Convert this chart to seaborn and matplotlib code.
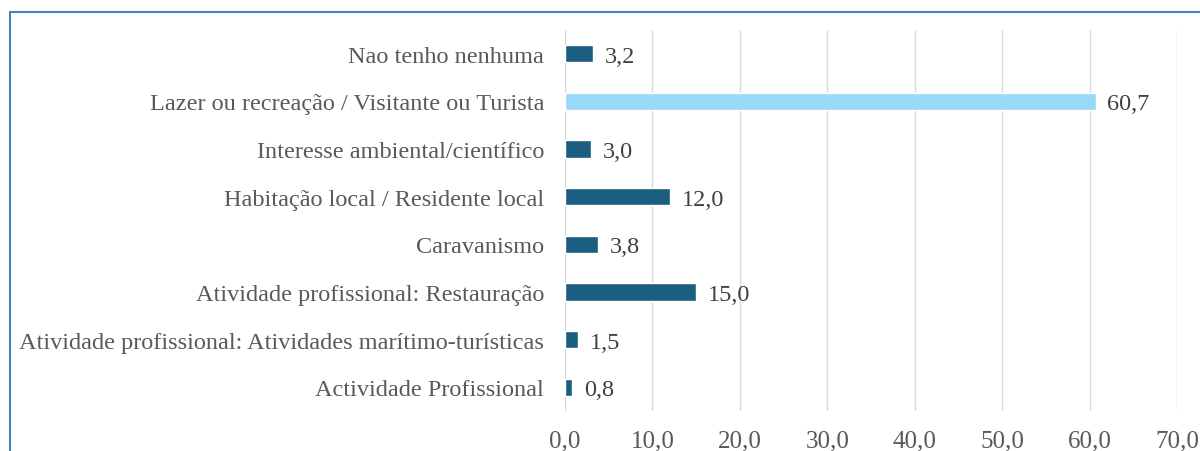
import matplotlib
matplotlib.use("Agg")
import matplotlib.pyplot as plt
import seaborn as sns
import pandas as pd
from matplotlib.patches import Rectangle

categories = [
    "Nao tenho nenhuma",
    "Lazer ou recreação / Visitante ou Turista",
    "Interesse ambiental/científico",
    "Habitação local / Residente local",
    "Caravanismo",
    "Atividade profissional: Restauração",
    "Atividade profissional: Atividades marítimo-turísticas",
    "Actividade Profissional",
]
values = [3.2, 60.7, 3.0, 12.0, 3.8, 15.0, 1.5, 0.8]
highlight = ["n", "y", "n", "n", "n", "n", "n", "n"]
xticks = [0, 10, 20, 30, 40, 50, 60, 70]

df = pd.DataFrame({"cat": categories, "val": values, "hl": highlight})

sns.set_theme(style="white")
plt.rcParams["font.family"] = ["Liberation Serif", "DejaVu Serif"]

fig = plt.figure(figsize=(12, 4.52), dpi=100)
ax = fig.add_axes([565/1200, 1-412/452, (1177-565)/1200, (412-31)/452])

sns.barplot(data=df, y="cat", x="val", hue="hl", order=categories,
            palette={"n": "#1B5E80", "y": "#97D9F7"}, width=0.36,
            legend=False, ax=ax, saturation=1)

ax.set_xlim(0, 70)
ax.set_xticks(xticks)
ax.set_xticklabels([f"{t:.1f}".replace(".", ",") for t in xticks],
                   fontsize=18, color="#595959")
ax.tick_params(axis="y", labelsize=17.5, labelcolor="#595959", length=0, pad=15)
ax.tick_params(axis="x", length=0, pad=13)
for lbl in ax.get_yticklabels():
    lbl.set_va("center_baseline")
ax.grid(axis="x", color="#D9D9D9", linewidth=1)
ax.set_axisbelow(True)
for s in ax.spines.values():
    s.set_visible(False)
ax.set_xlabel("")
ax.set_ylabel("")

for i, v in enumerate(values):
    ax.text(v + 1.35, i, f"{v:.1f}".replace(".", ","), va="center_baseline",
            ha="left", fontsize=17.5, color="#404040")

fig.patches.append(Rectangle((10/1200, -0.1), 1.2, 1 - 13/452 + 0.1,
                             transform=fig.transFigure, fill=False,
                             edgecolor="#4A7EC2", linewidth=1.5))

fig.savefig("out.png", dpi=100)
